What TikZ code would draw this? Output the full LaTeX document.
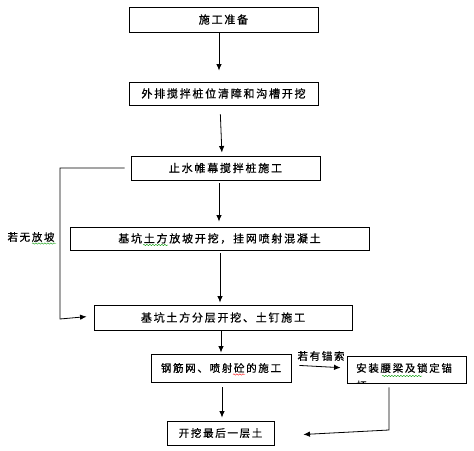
\documentclass[tikz,border=0pt]{standalone}
\usepackage{fontspec}
\newfontfamily\cjk[LetterSpace=16,FakeBold=0.6]{Noto Sans CJK SC}
\usetikzlibrary{arrows.meta,decorations.pathmorphing}
\begin{document}
\begin{tikzpicture}[x=1pt,y=-1pt,
  box/.style={draw,line width=0.9pt,inner sep=0pt,font=\cjk\fontsize{11}{13}\selectfont},
  sbox/.style={box,font=\cjk\fontsize{10.5}{12}\selectfont},
  lbl/.style={inner sep=0pt,font=\cjk\fontsize{10.5}{12}\selectfont},
  arr/.style={line width=0.8pt,-{Latex[length=6.5pt,width=5.5pt]}},
  wave/.style={line width=0.4pt,decorate,decoration={snake,amplitude=0.7pt,segment length=3pt}}]
\useasboundingbox (0,0) rectangle (474,450);
\fill[white] (0,0) rectangle (474,450);
\node[box,minimum width=189pt,minimum height=25pt] (b1) at (223.5,19.5) {施工准备};
\node[box,minimum width=189pt,minimum height=23pt] (b2) at (223.5,93.5) {外排搅拌桩位清障和沟槽开挖};
\node[box,minimum width=189pt,minimum height=24pt] (b3) at (225.5,168) {止水帷幕搅拌桩施工};
\node[box,minimum width=299pt,minimum height=23pt] (b4) at (219.5,238.5) {基坑土方放坡开挖，挂网喷射混凝土};
\node[box,minimum width=258pt,minimum height=25pt] (b5) at (223,317.5) {基坑土方分层开挖、土钉施工};
\node[sbox,minimum width=140pt,minimum height=28pt] (b6) at (221,368) {钢筋网、喷射砼的施工};
\node[sbox,minimum width=119pt,minimum height=27pt] (b7) at (406.5,369.5) {};
\node[lbl,anchor=west] (t7) at (356,368) {安装腰梁及锁定锚};
\begin{scope}
\clip (b7.south west) rectangle (b7.north east);
\node[lbl,anchor=west] (t7b) at (356,385.5) {杆};
\end{scope}
\node[sbox,minimum width=107pt,minimum height=24pt] (b8) at (220.5,433) {开挖最后一层土};
\node[lbl] (l1) at (31,237) {若无放坡};
\node[lbl] (l2) at (321,356) {若有锚索};
\coordinate (c1) at (60,168);
\coordinate (c2) at (60,319);
\coordinate (c3) at (389,430);
% arrows
\draw[arr,shorten >=11pt] ([xshift=-4.5pt]b1.south) -- ([xshift=-4.5pt]b2.north);
\draw[arr,shorten <=9pt,shorten >=3pt] ([xshift=-3.5pt]b2.south) -- ([xshift=-3.5pt]b3.north);
\draw[arr,shorten <=3pt,shorten >=5pt] ([xshift=-6.5pt]b3.south) -- ([xshift=-0.5pt]b4.north);
\draw[arr,shorten <=3pt,shorten >=2pt] ([xshift=0.5pt]b4.south) -- ([xshift=-3pt]b5.north);
\draw[arr,shorten >=1pt] ([xshift=-2pt]b5.south) -- ([xshift=0pt]b6.north);
\draw[arr,shorten <=5pt,shorten >=3pt] ([xshift=1pt]b6.south) -- ([xshift=1.5pt]b8.north);
\draw[arr,shorten <=6pt,shorten >=7pt] (b3.west) -- (c1) -- (c2) -- ([yshift=1.5pt]b5.west);
\draw[arr,shorten <=8pt,shorten >=6pt] ([yshift=3pt]b6.east) -- ([yshift=1.5pt]b7.west);
\draw[arr,shorten <=4pt,shorten >=29pt] (b7.south -| c3) -- (c3) -- ([yshift=-3pt]b8.east);
% spell-check marks
\draw[wave,green!60!black] (32,243.5) -- (56,243.5);
\draw[wave,green!60!black] (143,245) -- (168,245);
\draw[wave,red] (233,374.5) -- (245,374.5);
\draw[wave,green!60!black] (382,376) -- (422,376);
\end{tikzpicture}
\end{document}
